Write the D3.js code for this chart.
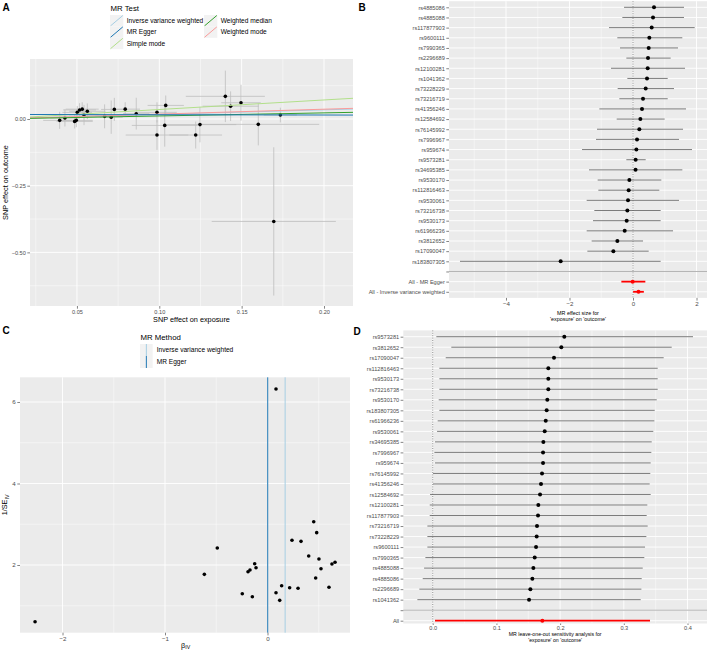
<!DOCTYPE html>
<html><head><meta charset="utf-8">
<script src="https://cdn.jsdelivr.net/npm/d3@7"></script>
<style>body{margin:0;background:#fff} svg{display:block;font-family:"Liberation Sans",Arial,Helvetica,sans-serif}</style>
</head><body><svg id="c" width="708" height="653"></svg>
<script>
// ---------- Panel A: SNP scatter ----------
const aExpBeta = [0.0395,0.0427,0.0486,0.0496,0.0502,0.0516,0.0532,0.0563,0.0543,0.0668,0.0708,0.0727,0.0793,0.0860,0.0986,0.1039,0.1033,0.0986,0.1221,0.1401,0.1433,0.1496,0.1247,0.1601,0.1735,0.1695];
const aExpSe   = [0.010,0.009,0.011,0.010,0.009,0.010,0.010,0.011,0.009,0.006,0.007,0.008,0.009,0.008,0.012,0.011,0.020,0.019,0.016,0.024,0.017,0.012,0.022,0.037,0.010,0.0377];
const aOutBeta = [-0.005,0.004,-0.009,-0.005,0.025,0.034,0.037,0.029,0.015,0.010,0.007,0.036,0.037,0.020,0.025,0.051,-0.024,-0.060,-0.060,0.085,0.048,0.061,-0.021,-0.020,0.015,-0.384];
const aOutSe   = [0.032,0.032,0.0265,0.0256,0.0234,0.0255,0.0258,0.0295,0.038,0.0448,0.0625,0.0432,0.0259,0.0596,0.0378,0.0372,0.0797,0.0557,0.0505,0.0964,0.0555,0.0674,0.0664,0.0788,0.0275,0.278];
const aXTicks = [0.05,0.10,0.15,0.20];
const aYTicks = [-0.50,-0.25,0.00];

const mrMethods    = ["Inverse variance weighted","MR Egger","Simple mode","Weighted median","Weighted mode"];
const mrSlopes     = [0.172,-0.011,0.357,0.115,0.184];
const mrIntercepts = [0,0.0172,0,0,0];
const mrColors     = ["#a6cee3","#1f78b4","#b2df8a","#33a02c","#fb9a99"];

// ---------- Panel B: single SNP forest ----------
const bLabels = ["rs4885086","rs4885088","rs117877903","rs9600111","rs7990365","rs2296689","rs12100281","rs1041362","rs73228229","rs73216719","rs41356246","rs12584692","rs76145992","rs7996967","rs959674","rs9573281","rs34695385","rs9530170","rs112816463","rs9530061","rs73216738","rs9530173","rs61966236","rs3812652","rs17090047","rs183807305","","All - MR Egger","All - Inverse variance weighted"];
const bEst = [0.661,0.630,0.588,0.514,0.493,0.472,0.462,0.441,0.399,0.315,0.283,0.231,0.199,0.126,0.105,0.083,0.080,-0.115,-0.136,-0.157,-0.178,-0.199,-0.262,-0.493,-0.619,-2.278,null,-0.011,0.172];
const bLo  = [-0.283,-0.336,-0.756,-0.494,-0.409,-0.210,-0.693,-0.178,-0.483,-0.430,-1.060,-0.514,-1.134,-1.165,-1.606,-0.210,-1.386,-1.113,-1.092,-1.459,-1.218,-1.260,-1.459,-1.302,-1.438,-5.449,null,-0.367,0.003];
const bHi  = [1.606,1.606,1.942,1.553,1.417,1.186,1.638,1.092,1.291,1.092,1.669,0.997,1.575,1.449,1.858,0.399,1.554,0.892,0.829,1.449,0.871,0.871,1.260,0.315,0.494,0.871,null,0.388,0.341];
const bXTicks = [-4,-2,0,2];

// ---------- Panel C: funnel ----------
const cBetaIV = [-2.268,-0.616,-0.490,-0.246,-0.190,-0.171,-0.148,-0.125,-0.112,0.083,0.119,0.138,0.216,0.239,0.298,0.327,0.402,0.451,0.470,0.480,0.502,0.522,0.600,0.629,0.659,0.083];
const cInvSe  = [0.609,1.771,2.417,1.296,1.836,1.877,1.222,2.032,1.934,1.320,1.133,1.492,1.443,2.606,1.428,2.581,2.221,3.063,1.681,2.794,2.147,1.910,1.453,2.025,2.066,6.319];
const cMethods = ["Inverse variance weighted","MR Egger"];
const cEstimates = [0.172,0.002];
const cXTicks = [-2,-1,0];
const cYTicks = [2,4,6];

// ---------- Panel D: leave-one-out ----------
const dLabels = ["rs9573281","rs3812652","rs17090047","rs112816463","rs9530173","rs73216738","rs9530170","rs183807305","rs61966236","rs9530061","rs34695385","rs7996967","rs959674","rs76145992","rs41356246","rs12584692","rs12100281","rs117877903","rs73216719","rs73228229","rs9600111","rs7990365","rs4885088","rs4885086","rs2296689","rs1041362","","All"];
const dEst = [0.2066,0.2019,0.1904,0.1815,0.1815,0.1815,0.1799,0.1789,0.1774,0.1758,0.1737,0.1732,0.1732,0.1716,0.1700,0.1685,0.1658,0.1653,0.1637,0.1632,0.1622,0.1601,0.1580,0.1564,0.1533,0.1512,null,0.1721];
const dLo  = [0.0057,0.0292,0.0204,0.0104,0.0104,0.0104,0.0094,0.0104,0.0078,0.0068,0.0036,0.0026,0.0036,0.0005,0.0005,-0.0042,-0.0047,-0.0047,-0.0084,-0.0084,-0.0084,-0.0115,-0.0136,-0.0157,-0.0210,-0.0241,null,0.0036];
const dHi  = [0.4086,0.3752,0.3626,0.3532,0.3532,0.3532,0.3517,0.3485,0.3480,0.3463,0.3438,0.3432,0.3422,0.3416,0.3406,0.3422,0.3369,0.3359,0.3375,0.3354,0.3333,0.3322,0.3297,0.3281,0.3276,0.3265,null,0.3411];
const dXTicks = [0.0,0.1,0.2,0.3,0.4];

// =========================================================
const svg = d3.select("#c");
const BG = "#ebebeb", TICKC = "#4d4d4d";
const fmtMinus = s => String(s).replace("-", "\u2212");

function panel(x0, x1, y0, y1) {
  svg.append("rect").attr("x", x0).attr("y", y0).attr("width", x1 - x0).attr("height", y1 - y0).attr("fill", BG);
}
function vlines(vals, sx, y0, y1, w) {
  svg.append("g").selectAll("line").data(vals).join("line")
    .attr("x1", d => sx(d)).attr("x2", d => sx(d)).attr("y1", y0).attr("y2", y1)
    .attr("stroke", "#fff").attr("stroke-width", w);
}
function hlines(vals, sy, x0, x1, w) {
  svg.append("g").selectAll("line").data(vals).join("line")
    .attr("y1", d => sy(d)).attr("y2", d => sy(d)).attr("x1", x0).attr("x2", x1)
    .attr("stroke", "#fff").attr("stroke-width", w);
}
function styleAxis(g, fs) {
  g.select(".domain").remove();
  g.selectAll(".tick line").attr("stroke", "#333").attr("stroke-width", 0.6);
  g.selectAll(".tick text").attr("fill", TICKC).attr("font-size", fs).attr("font-family", '"Liberation Sans",Arial,sans-serif');
}
function clip(id, x0, x1, y0, y1) {
  svg.append("clipPath").attr("id", id).append("rect").attr("x", x0).attr("y", y0).attr("width", x1 - x0).attr("height", y1 - y0);
}
function label(txt, x, y, opts = {}) {
  const t = svg.append("text").attr("x", x).attr("y", y).text(txt)
    .attr("font-size", opts.fs || 7).attr("fill", opts.fill || "#000")
    .attr("text-anchor", opts.anchor || "start");
  if (opts.bold) t.attr("font-weight", "bold");
  if (opts.rotate) t.attr("transform", `rotate(-90,${x},${y})`);
  return t;
}

// ================= PANEL A =================
{
  const L = 30, R = 353, T = 59, B = 306;
  const sx = d3.scaleLinear().domain([0.0215, 0.2176]).range([L, R]);
  const sy = d3.scaleLinear().domain([-0.701, 0.225]).range([B, T]);
  panel(L, R, T, B);
  vlines([0.025, 0.075, 0.125, 0.175], sx, T, B, 0.45);
  hlines([-0.625, -0.375, -0.125, 0.125], sy, L, R, 0.45);
  vlines(aXTicks, sx, T, B, 0.9);
  hlines(aYTicks, sy, L, R, 0.9);
  clip("clipA", L, R, T, B);
  const g = svg.append("g").attr("clip-path", "url(#clipA)");
  const idx = d3.range(aExpBeta.length);
  g.selectAll(".ev").data(idx).join("line")
    .attr("x1", i => sx(aExpBeta[i])).attr("x2", i => sx(aExpBeta[i]))
    .attr("y1", i => sy(aOutBeta[i] - aOutSe[i])).attr("y2", i => sy(aOutBeta[i] + aOutSe[i]))
    .attr("stroke", "#bebebe").attr("stroke-width", 0.8);
  g.selectAll(".eh").data(idx).join("line")
    .attr("y1", i => sy(aOutBeta[i])).attr("y2", i => sy(aOutBeta[i]))
    .attr("x1", i => sx(aExpBeta[i] - aExpSe[i])).attr("x2", i => sx(aExpBeta[i] + aExpSe[i]))
    .attr("stroke", "#bebebe").attr("stroke-width", 0.8);
  g.selectAll("circle").data(idx).join("circle")
    .attr("cx", i => sx(aExpBeta[i])).attr("cy", i => sy(aOutBeta[i])).attr("r", 1.8).attr("fill", "#000");
  const xs = sx.domain();
  const order = [0, 2, 4, 3, 1];
  g.selectAll(".ab").data(order).join("line")
    .attr("x1", sx(xs[0])).attr("x2", sx(xs[1]))
    .attr("y1", i => sy(mrIntercepts[i] + mrSlopes[i] * xs[0]))
    .attr("y2", i => sy(mrIntercepts[i] + mrSlopes[i] * xs[1]))
    .attr("stroke", i => mrColors[i]).attr("stroke-width", 1);
  const ax = svg.append("g").attr("transform", `translate(0,${B})`)
    .call(d3.axisBottom(sx).tickValues(aXTicks).tickFormat(d3.format(".2f")).tickSize(2.7).tickPadding(1.5));
  styleAxis(ax, 5.6);
  const ay = svg.append("g").attr("transform", `translate(${L},0)`)
    .call(d3.axisLeft(sy).tickValues(aYTicks).tickFormat(d => fmtMinus(d3.format(".2f")(d))).tickSize(2.7).tickPadding(1.5));
  styleAxis(ay, 5.6);
  label("SNP effect on exposure", (L + R) / 2, 322, { fs: 7.3, anchor: "middle" });
  label("SNP effect on outcome", 7.5, (T + B) / 2, { fs: 7.3, anchor: "middle", rotate: true });
  // legend
  label("MR Test", 110.5, 10.8, { fs: 7.8 });
  const keyW = 13.3, keyH = 11.4;
  const legPos = [[110, 15], [110, 26.4], [110, 37.8], [204, 15], [204, 26.4]];
  legPos.forEach((p, i) => {
    svg.append("rect").attr("x", p[0]).attr("y", p[1]).attr("width", keyW).attr("height", keyH).attr("fill", "#f2f2f2");
    svg.append("line").attr("x1", p[0] + 0.5).attr("y1", p[1] + keyH - 0.5).attr("x2", p[0] + keyW - 0.5).attr("y2", p[1] + 0.5)
      .attr("stroke", mrColors[i]).attr("stroke-width", 1);
    label(mrMethods[i], p[0] + keyW + 3.4, p[1] + keyH / 2 + 2.3, { fs: 6.6 });
  });
}

// ================= PANEL B =================
{
  const L = 449, R = 707, T = 1.2, B = 297.9;
  const sx = d3.scaleLinear().domain([-5.795, 2.33]).range([L, R]);
  const sy = d3.scalePoint().domain(d3.range(bLabels.length)).range([7.3, 291.8]);
  panel(L, R, T, B);
  vlines([-5, -3, -1, 1], sx, T, B, 0.45);
  vlines(bXTicks, sx, T, B, 0.9);
  hlines(d3.range(bLabels.length), sy, L, R, 0.9);
  const sep = bLabels.indexOf("");
  svg.append("line").attr("x1", L).attr("x2", R).attr("y1", sy(sep)).attr("y2", sy(sep)).attr("stroke", "#b3b3b3").attr("stroke-width", 1);
  svg.append("line").attr("x1", sx(0)).attr("x2", sx(0)).attr("y1", T).attr("y2", B)
    .attr("stroke", "#666").attr("stroke-width", 0.7).attr("stroke-dasharray", "1,1.4");
  const idx = d3.range(bLabels.length).filter(i => bEst[i] !== null);
  const isAll = i => bLabels[i].startsWith("All");
  svg.append("g").selectAll("line").data(idx).join("line")
    .attr("x1", i => sx(bLo[i])).attr("x2", i => sx(bHi[i])).attr("y1", i => sy(i)).attr("y2", i => sy(i))
    .attr("stroke", i => isAll(i) ? "#ff0000" : "#5a5a5a").attr("stroke-width", i => isAll(i) ? 1.8 : 0.8);
  svg.append("g").selectAll("circle").data(idx).join("circle")
    .attr("cx", i => sx(bEst[i])).attr("cy", i => sy(i)).attr("r", 2)
    .attr("fill", i => isAll(i) ? "#ff0000" : "#000");
  const ax = svg.append("g").attr("transform", `translate(0,${B})`)
    .call(d3.axisBottom(sx).tickValues(bXTicks).tickFormat(d => fmtMinus(d)).tickSize(2.7).tickPadding(1.5));
  styleAxis(ax, 6.2);
  const ay = svg.append("g").attr("transform", `translate(${L},0)`)
    .call(d3.axisLeft(sy).tickFormat(i => bLabels[i]).tickSize(2.7).tickPadding(1.5));
  styleAxis(ay, 5.6);
  label("MR effect size for", (L + R) / 2, 314.6, { fs: 5.4, anchor: "middle" });
  label("'exposure' on 'outcome'", (L + R) / 2, 321, { fs: 5.4, anchor: "middle" });
}

// ================= PANEL C =================
{
  const L = 20, R = 350, T = 377.3, B = 632.7;
  const sx = d3.scaleLinear().domain([-2.415, 0.805]).range([L, R]);
  const sy = d3.scaleLinear().domain([0.339, 6.606]).range([B, T]);
  panel(L, R, T, B);
  vlines([-1.5, -0.5, 0.5], sx, T, B, 0.45);
  hlines([1, 3, 5], sy, L, R, 0.45);
  vlines(cXTicks, sx, T, B, 0.9);
  hlines(cYTicks, sy, L, R, 0.9);
  svg.append("g").selectAll("circle").data(d3.range(cBetaIV.length)).join("circle")
    .attr("cx", i => sx(cBetaIV[i])).attr("cy", i => sy(cInvSe[i])).attr("r", 1.8).attr("fill", "#000");
  svg.append("g").selectAll("line").data([0, 1]).join("line")
    .attr("x1", i => sx(cEstimates[i])).attr("x2", i => sx(cEstimates[i])).attr("y1", T).attr("y2", B)
    .attr("stroke", i => mrColors[i]).attr("stroke-width", 1);
  const ax = svg.append("g").attr("transform", `translate(0,${B})`)
    .call(d3.axisBottom(sx).tickValues(cXTicks).tickFormat(d => fmtMinus(d)).tickSize(2.7).tickPadding(1.2));
  styleAxis(ax, 6.2);
  const ay = svg.append("g").attr("transform", `translate(${L},0)`)
    .call(d3.axisLeft(sy).tickValues(cYTicks).tickFormat(d3.format("d")).tickSize(2.7).tickPadding(1.5));
  styleAxis(ay, 6.2);
  const bx = svg.append("text").attr("x", (L + R) / 2 - 4).attr("y", 647.5).attr("font-size", 7.3).attr("fill", "#000");
  bx.append("tspan").text("\u03B2");
  bx.append("tspan").attr("font-size", 5.2).attr("dy", 1.5).text("IV");
  const yl = svg.append("text").attr("transform", `translate(7,${(T + B) / 2}) rotate(-90)`)
    .attr("text-anchor", "middle").attr("font-size", 7.3).attr("fill", "#000");
  yl.append("tspan").text("1/SE");
  yl.append("tspan").attr("font-size", 5.2).attr("dy", 1.5).text("IV");
  // legend
  label("MR Method", 140.5, 339.5, { fs: 7.8 });
  [[140, 344], [140, 356]].forEach((p, i) => {
    svg.append("rect").attr("x", p[0]).attr("y", p[1]).attr("width", 12.7).attr("height", 12).attr("fill", "#f2f2f2");
    svg.append("line").attr("x1", p[0] + 6.35).attr("x2", p[0] + 6.35).attr("y1", p[1]).attr("y2", p[1] + 12)
      .attr("stroke", mrColors[i]).attr("stroke-width", 1);
    label(cMethods[i], 156.7, p[1] + 8.3, { fs: 6.6 });
  });
}

// ================= PANEL D =================
{
  const L = 403.3, R = 707, T = 330.4, B = 623.5;
  const sx = d3.scaleLinear().domain([-0.0462, 0.4306]).range([L, R]);
  const sy = d3.scalePoint().domain(d3.range(dLabels.length)).range([336.7, 620.7]);
  panel(L, R, T, B);
  vlines([0.05, 0.15, 0.25, 0.35], sx, T, B, 0.45);
  vlines(dXTicks, sx, T, B, 0.9);
  hlines(d3.range(dLabels.length), sy, L, R, 0.9);
  const sep = dLabels.indexOf("");
  svg.append("line").attr("x1", L).attr("x2", R).attr("y1", sy(sep)).attr("y2", sy(sep)).attr("stroke", "#b3b3b3").attr("stroke-width", 1);
  svg.append("line").attr("x1", sx(0)).attr("x2", sx(0)).attr("y1", T).attr("y2", B)
    .attr("stroke", "#666").attr("stroke-width", 0.7).attr("stroke-dasharray", "1,1.4");
  const idx = d3.range(dLabels.length).filter(i => dEst[i] !== null);
  const isAll = i => dLabels[i] === "All";
  svg.append("g").selectAll("line").data(idx).join("line")
    .attr("x1", i => sx(dLo[i])).attr("x2", i => sx(dHi[i])).attr("y1", i => sy(i)).attr("y2", i => sy(i))
    .attr("stroke", i => isAll(i) ? "#ff0000" : "#5a5a5a").attr("stroke-width", i => isAll(i) ? 1.8 : 0.8);
  svg.append("g").selectAll("circle").data(idx).join("circle")
    .attr("cx", i => sx(dEst[i])).attr("cy", i => sy(i)).attr("r", 2)
    .attr("fill", i => isAll(i) ? "#ff0000" : "#000");
  const ax = svg.append("g").attr("transform", `translate(0,${B})`)
    .call(d3.axisBottom(sx).tickValues(dXTicks).tickFormat(d3.format(".1f")).tickSize(1.5).tickPadding(0.6));
  styleAxis(ax, 5.6);
  const ay = svg.append("g").attr("transform", `translate(${L},0)`)
    .call(d3.axisLeft(sy).tickFormat(i => dLabels[i]).tickSize(2.7).tickPadding(1.5));
  styleAxis(ay, 5.6);
  label("MR leave-one-out sensitivity analysis for", (L + R) / 2, 635.6, { fs: 5.2, anchor: "middle" });
  label("'exposure' on 'outcome'", (L + R) / 2, 641.6, { fs: 5.2, anchor: "middle" });
}

// panel tags
label("A", 2.5, 10.5, { fs: 10, bold: true });
label("B", 358.5, 10.5, { fs: 10, bold: true });
label("C", 2.5, 334, { fs: 10, bold: true });
label("D", 353.5, 335, { fs: 10, bold: true });
</script>
</body></html>
